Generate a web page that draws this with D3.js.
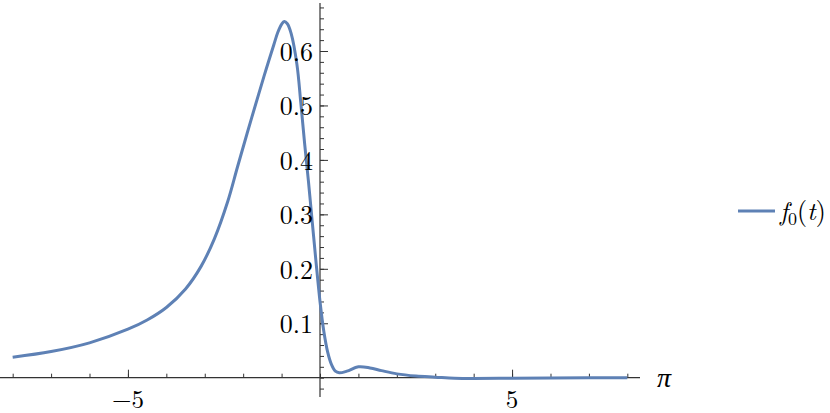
<!DOCTYPE html>
<html>
<head>
<meta charset="utf-8">
<script src="https://cdn.jsdelivr.net/npm/d3@7"></script>
<style>
  body { margin: 0; background: #fff; }
  svg { display: block; }
  .lbl { font-family: "Latin Modern Roman", "CMU Serif", "Liberation Serif", serif; font-size: 26px; fill: #000; }
</style>
</head>
<body>
<div id="chart"></div>
<script>
// curve samples
const tValues = [-8, -7, -6, -5, -4.5, -4, -3.5, -3.1, -2.75, -2.4, -2.15, -1.9, -1.6, -1.4, -1.2, -1.1, -1.0,
  -0.93, -0.85, -0.75, -0.6, -0.5, -0.4, -0.3, -0.2, -0.1, 0, 0.1, 0.2, 0.3, 0.4, 0.5, 0.7, 1.0, 1.3, 1.6, 2.0,
  2.5, 3, 3.5, 4, 5, 6, 7, 8];
const fValues = [0.0375, 0.048, 0.064, 0.089, 0.106, 0.129, 0.163, 0.204, 0.255, 0.324, 0.3865, 0.448, 0.520,
  0.567, 0.612, 0.634, 0.649, 0.654, 0.650, 0.632, 0.575, 0.505, 0.43, 0.36, 0.285, 0.21, 0.14, 0.085, 0.047,
  0.024, 0.012, 0.009, 0.012, 0.020, 0.018, 0.013, 0.007, 0.003, 0.001, -0.001, -0.0015, -0.001, -0.0005, 0, 0];

const xMajor = [-5, 5];
const xMinor = d3.range(-8, 9, 1);
const yMajor = [0.1, 0.2, 0.3, 0.4, 0.5, 0.6];
const yMinor = d3.range(-0.02, 0.681, 0.02);
const xAxisLabel = "π";

const width = 830, height = 413;
const color = "#5e81b5";

const svg = d3.select("#chart").append("svg")
  .attr("width", width)
  .attr("height", height);

const x = d3.scaleLinear().domain([-8.33, 8.33]).range([0, 640]);
const y = d3.scaleLinear().domain([0, 0.6]).range([377.7, 51]);

// x axis (ticks point up)
const gx = svg.append("g").attr("transform", `translate(0,${y(0)})`);
gx.append("line").attr("x1", 0).attr("x2", 640).attr("stroke", "#333").attr("stroke-width", 1.2);
gx.append("g").call(d3.axisTop(x).tickValues(xMinor).tickSize(4).tickFormat(""))
  .call(g => g.select(".domain").remove())
  .call(g => g.selectAll("line").attr("stroke", "#333"));
gx.append("g").call(d3.axisTop(x).tickValues(xMajor).tickSize(8).tickFormat(""))
  .call(g => g.select(".domain").remove())
  .call(g => g.selectAll("line").attr("stroke", "#333"));

// y axis (ticks point right)
const gy = svg.append("g").attr("transform", `translate(${x(0)},0)`);
gy.append("line").attr("y1", 3).attr("y2", 397).attr("stroke", "#333").attr("stroke-width", 1.2);
gy.append("g").call(d3.axisRight(y).tickValues(yMinor).tickSize(4).tickFormat(""))
  .call(g => g.select(".domain").remove())
  .call(g => g.selectAll("line").attr("stroke", "#333"));
gy.append("g").call(d3.axisRight(y).tickValues(yMajor).tickSize(8).tickFormat(""))
  .call(g => g.select(".domain").remove())
  .call(g => g.selectAll("line").attr("stroke", "#333"));

// curve
const line = d3.line()
  .x((d, i) => x(tValues[i]))
  .y(d => y(d))
  .curve(d3.curveCatmullRom.alpha(0.5));

svg.append("path")
  .datum(fValues)
  .attr("d", line)
  .attr("fill", "none")
  .attr("stroke", color)
  .attr("stroke-width", 3)
  .attr("stroke-linejoin", "round");

// tick labels
svg.selectAll(".xl").data(xMajor).join("text")
  .attr("class", "lbl")
  .attr("x", d => x(d))
  .attr("y", 407.5)
  .attr("text-anchor", "middle")
  .style("font-size", "25px")
  .text(d => d < 0 ? "\u2212" + Math.abs(d) : d);

svg.selectAll(".yl").data(yMajor).join("text")
  .attr("class", "lbl")
  .attr("x", 313)
  .attr("y", d => y(d) + 10)
  .attr("text-anchor", "end")
  .text(d => d3.format(".1f")(d));

svg.append("text")
  .attr("class", "lbl")
  .attr("x", 657)
  .attr("y", 387)
  .style("font-style", "italic")
  .style("font-size", "28px")
  .text(xAxisLabel);

// legend
svg.append("line")
  .attr("x1", 738).attr("x2", 775)
  .attr("y1", 211).attr("y2", 211)
  .attr("stroke", color)
  .attr("stroke-width", 3);

const leg = svg.append("text")
  .attr("class", "lbl")
  .attr("x", 780)
  .attr("y", 220)
  .style("font-size", "26px");
leg.append("tspan").style("font-style", "italic").text("f");
leg.append("tspan").attr("dy", 5).style("font-size", "18px").text("0");
leg.append("tspan").attr("dy", -5).text("(");
leg.append("tspan").style("font-style", "italic").text("t");
leg.append("tspan").text(")");
</script>
</body>
</html>
